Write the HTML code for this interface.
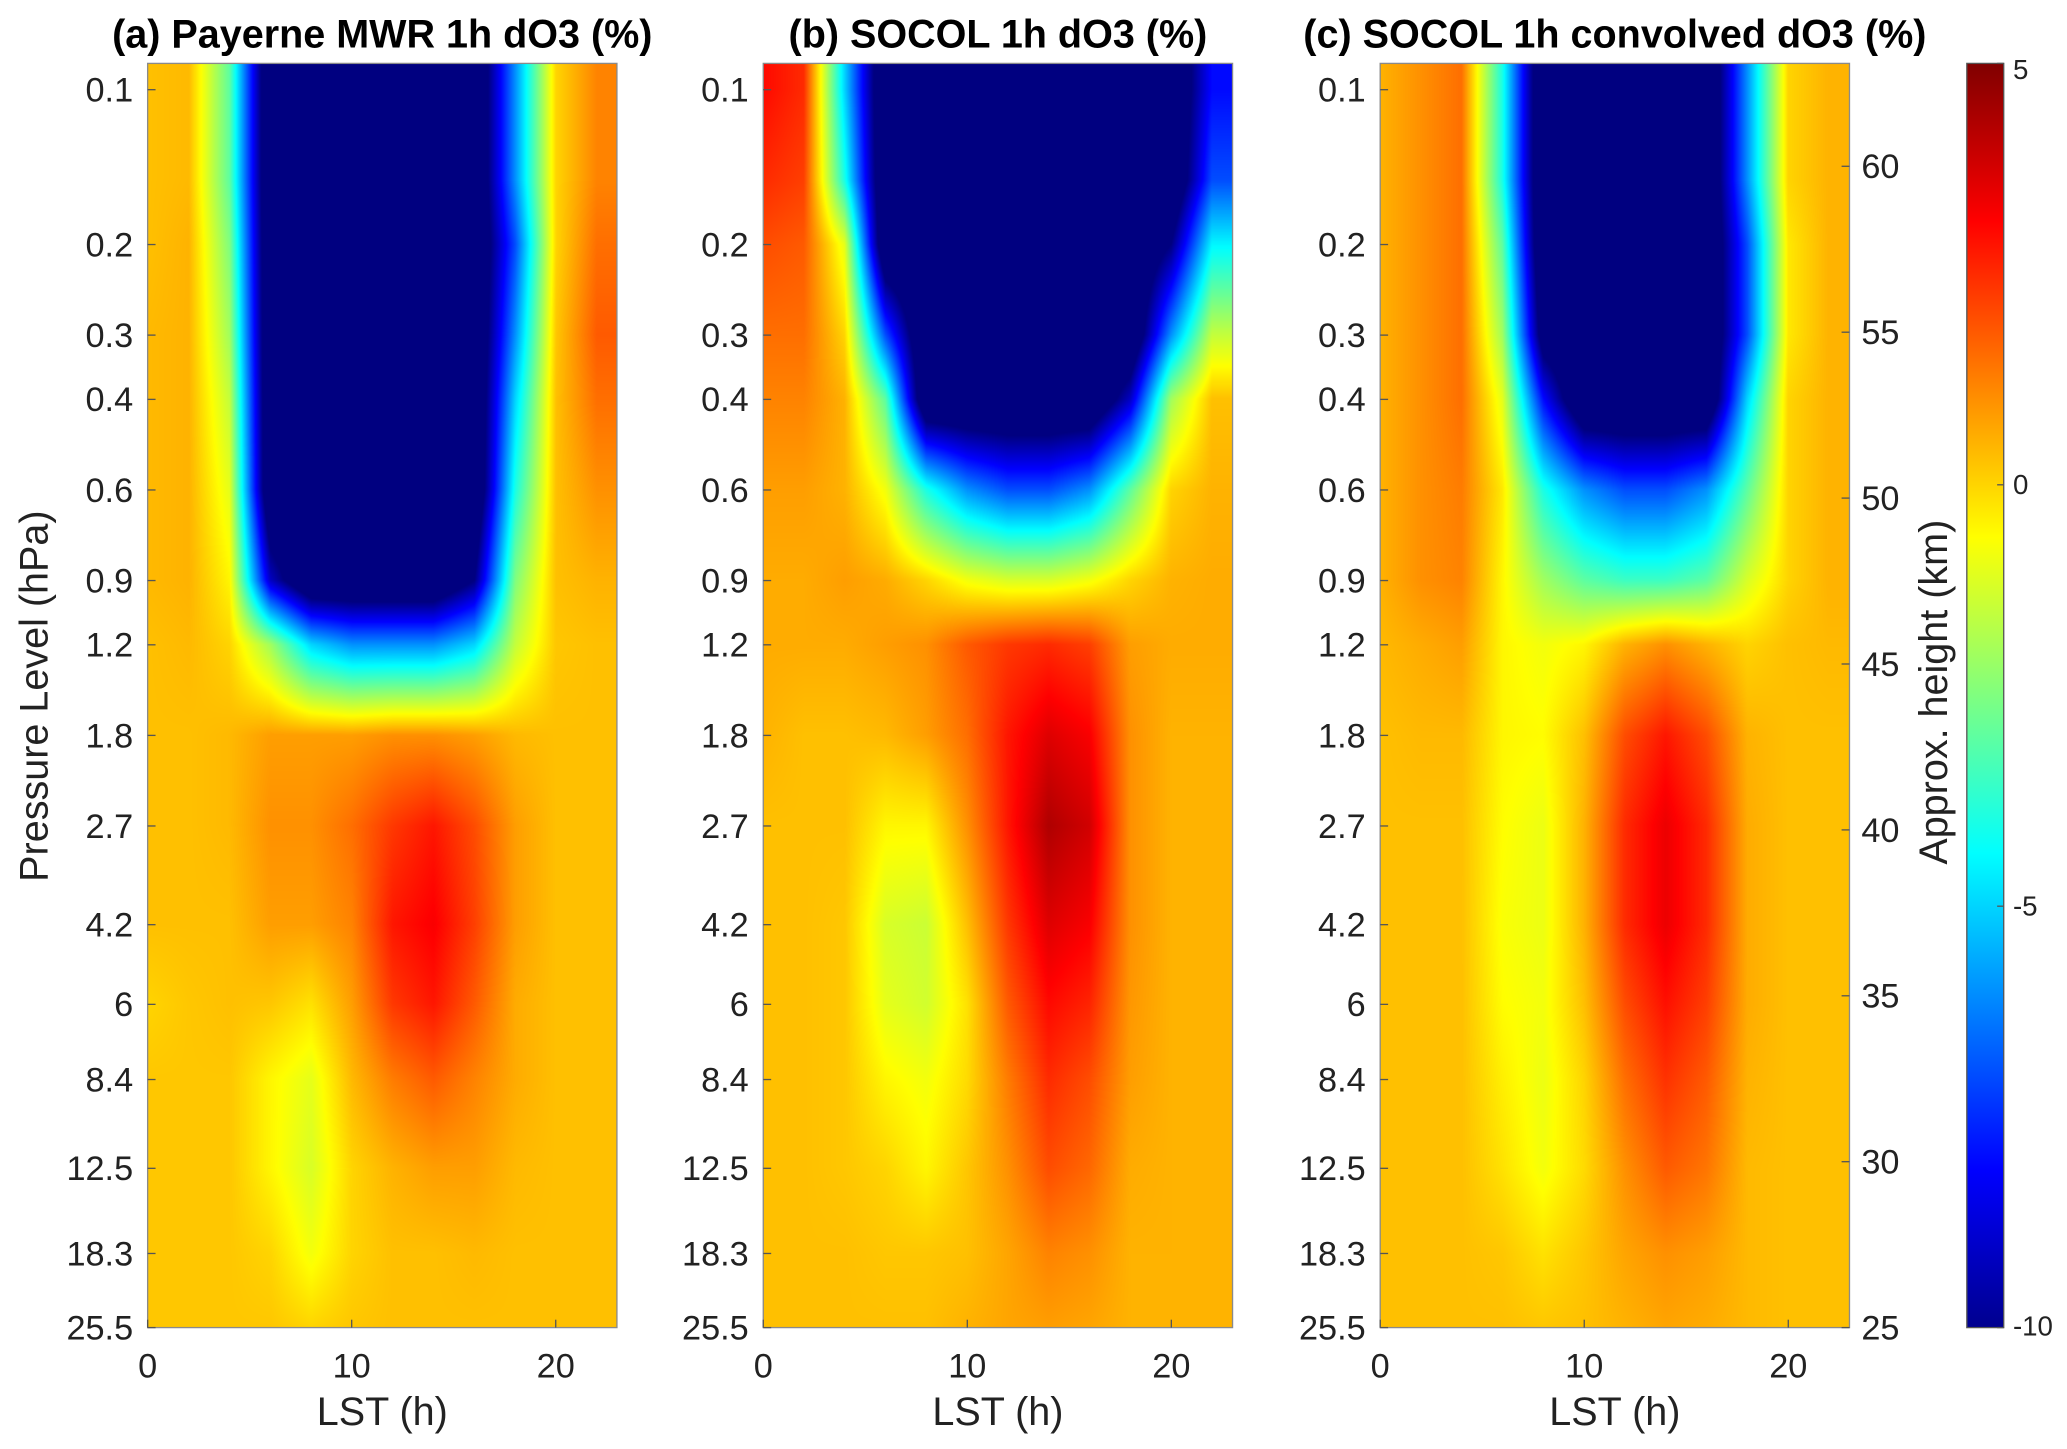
<!DOCTYPE html>
<html><head><meta charset="utf-8"><style>
html,body{margin:0;padding:0;background:#fff}
#wrap{position:relative;width:2067px;height:1449px}
canvas{position:absolute;display:block}
svg{position:absolute;left:0;top:0;display:block;font-family:"Liberation Sans",Arial,sans-serif}
</style></head><body>
<div id="wrap">
<svg id="fig" width="2067" height="1449" viewBox="0 0 1568 1099" xmlns="http://www.w3.org/2000/svg">
<defs>
<linearGradient id="cbgrad" x1="0" y1="1" x2="0" y2="0">
<stop offset="0" stop-color="#00008f"/><stop offset="0.125" stop-color="#0000ff"/><stop offset="0.375" stop-color="#00ffff"/><stop offset="0.625" stop-color="#ffff00"/><stop offset="0.875" stop-color="#ff0000"/><stop offset="1" stop-color="#800000"/>
</linearGradient>
</defs>
<g id="root"></g>
</svg>
</div>
<script>
const hours=[0,2,4,6,8,10,12,14,16,18,20,22];
const levels=[0.1,0.15,0.2,0.3,0.4,0.6,0.9,1.2,1.8,2.7,4.2,6,8.4,12.5,18.3,25.5];
const pTicks=[0.1,0.2,0.3,0.4,0.6,0.9,1.2,1.8,2.7,4.2,6,8.4,12.5,18.3,25.5];
const xTicks=[0,10,20];
const kmTicks=[25,30,35,40,45,50,55,60];
const cbTicks=[5,0,-5,-10];
const titles=["(a) Payerne MWR 1h dO3 (%)","(b) SOCOL 1h dO3 (%)","(c) SOCOL 1h convolved dO3 (%)"];
const dataA=[
[0.3,0.4,-3,-12,-12,-12,-12,-12,-12,-6,0,1.2],
[0.3,0.4,-3,-12,-12,-12,-12,-12,-12,-6,0,1.2],
[0.3,0.5,-2.5,-12,-12,-12,-12,-12,-12,-7,0,1.5],
[0.4,0.5,-2,-12,-12,-12,-12,-12,-12,-6,0.2,1.8],
[0.4,0.5,-1.5,-12,-12,-12,-12,-12,-12,-5,0.3,1.5],
[0.4,0.5,-1,-12,-12,-12,-12,-12,-12,-4,0.3,1],
[0.4,0.5,-0.5,-9,-12,-12,-12,-12,-10,-2.5,0.3,0.5],
[0.3,0.4,0,-2,-5,-6,-6,-6,-5,-1.5,0.2,0.3],
[0.3,0.3,0.4,0.8,0.8,0.8,1,1,0.8,0.4,0.3,0.3],
[0.3,0.3,0.4,1,1,1.5,2.3,2.8,2,0.8,0.3,0.3],
[0.3,0.3,0.3,0.8,0.8,1.2,2.8,3.2,2.2,0.8,0.3,0.3],
[0,0.2,0.3,0.2,-0.2,0.8,2.3,2.8,1.8,0.6,0.3,0.3],
[0.2,0.2,0.2,-0.5,-1,0.4,1.3,1.8,1.2,0.6,0.3,0.3],
[0.2,0.2,0.2,-0.5,-1.2,0,0.5,0.8,0.8,0.4,0.3,0.3],
[0.2,0.2,0.2,0,-0.8,0,0.3,0.3,0.4,0.3,0.3,0.3],
[0.2,0.2,0.2,0.2,0,0.2,0.3,0.3,0.3,0.3,0.3,0.3]];
const dataB=[
[3,2.5,-5,-12,-12,-12,-12,-12,-12,-12,-12,-8],
[2.5,2.2,-4,-12,-12,-12,-12,-12,-12,-12,-12,-7],
[2,1.8,-1,-12,-12,-12,-12,-12,-12,-12,-10,-4.5],
[1.5,1.5,0,-7,-12,-12,-12,-12,-12,-12,-6,-1.5],
[1.2,1.2,0.5,-3,-12,-12,-12,-12,-12,-9,-2,0.3],
[0.8,0.8,0.5,-0.8,-4,-6,-7,-7,-6,-3,0,0.5],
[0.6,0.6,0.8,0.6,0,-0.8,-1.2,-1.2,-0.8,0,0.5,0.6],
[0.6,0.6,0.6,0.8,1,1.8,2.3,2.5,2.2,0.8,0.6,0.6],
[0.5,0.3,0.3,0.4,0.8,1.5,2.8,3.6,3.2,1,0.5,0.5],
[0.3,0.3,0.3,-0.5,-0.5,1,2.8,4.3,3.8,1,0.5,0.5],
[0.3,0.3,0.2,-1.2,-1.4,0.3,2.3,3.6,3.2,1,0.5,0.5],
[0.3,0.3,0.2,-1,-1.3,-0.2,1.8,3,2.6,0.9,0.5,0.5],
[0.3,0.3,0.2,-0.5,-0.8,-0.1,1.3,2.5,2,0.8,0.5,0.5],
[0.3,0.3,0.2,0,-0.5,0.2,1,2,1.6,0.6,0.5,0.5],
[0.3,0.3,0.3,0.2,0.2,0.3,0.7,1.2,1,0.5,0.5,0.5],
[0.3,0.3,0.3,0.3,0.3,0.5,0.7,0.8,0.7,0.5,0.5,0.5]];
const dataC=[
[0.5,1,1.5,-4,-12,-12,-12,-12,-12,-6,0,0.5],
[0.5,1,1.5,-4,-12,-12,-12,-12,-12,-6,0,0.5],
[0.5,1,1.5,-3,-12,-12,-12,-12,-12,-7,-0.3,0.5],
[0.5,1,1.5,-2,-11,-12,-12,-12,-12,-7,-0.3,0.5],
[0.5,1,1.5,-1,-8,-12,-12,-12,-12,-5,0,0.5],
[0.5,1,1.3,-0.3,-4,-6,-7,-7,-6,-3,0,0.5],
[0.5,1,1.2,-0.5,-2,-3,-3.5,-3.5,-3,-1.2,0,0.5],
[0.4,0.6,0.8,-0.5,-0.8,-0.5,0.5,1,0.5,0,0.3,0.4],
[0.3,0.4,0.4,-0.5,-0.6,0.3,2,2.8,2,0.5,0.3,0.3],
[0.3,0.3,0.3,-0.6,-0.9,0.5,2.5,3.4,2.5,0.6,0.3,0.3],
[0.3,0.3,0.3,-0.7,-0.9,0.5,2.5,3.4,2.5,0.6,0.3,0.3],
[0.3,0.3,0.3,-0.6,-0.8,0.3,2,2.9,2.2,0.6,0.3,0.3],
[0.3,0.3,0.3,-0.4,-0.9,0,1.5,2.4,1.8,0.5,0.3,0.3],
[0.3,0.3,0.3,-0.2,-0.8,-0.1,1,1.8,1.4,0.4,0.3,0.3],
[0.3,0.3,0.3,0.2,-0.2,0.2,0.7,1,0.8,0.4,0.3,0.3],
[0.3,0.3,0.3,0.3,0.2,0.3,0.5,0.7,0.6,0.4,0.3,0.3]];
const panels=[dataA,dataB,dataC];

const NS="http://www.w3.org/2000/svg";
const S=2067/1568;
const root=document.getElementById('root');
const wrap=document.getElementById('wrap');
const panelX=[112,579,1047], PW=356, PT=48, PB=1007;
const xMax=23, pTop=0.0889, pBot=25.5;
const L0=Math.log10(pTop), L1=Math.log10(pBot);
function xs(h,i){return panelX[i]+h/xMax*PW;}
function ys(p){return PT+(Math.log10(p)-L0)/(L1-L0)*(PB-PT);}
function kmY(k){return 1007-(k-25)*25.17;}
function cbY(v){return 1007-(v+10)/15*(1007-48);}
function jetArr(v){let t=(v+10)/15;t=Math.max(0,Math.min(1,t));
 const r=Math.min(1,Math.max(0,1.5-Math.abs(4*t-3))),g=Math.min(1,Math.max(0,1.5-Math.abs(4*t-2))),b=Math.min(1,Math.max(0,1.5-Math.abs(4*t-1)));
 return [r*255,g*255,b*255];}
function mk(tag,attrs,parent){const e=document.createElementNS(NS,tag);for(const k in attrs)e.setAttribute(k,attrs[k]);(parent||root).appendChild(e);return e;}
function txt(s,attrs,parent){const e=mk('text',attrs,parent);e.textContent=s;return e;}
function interp1(arr,x){
 if(x<=arr[0])return [0,0];
 if(x>=arr[arr.length-1])return [arr.length-2,1];
 let k=0;while(x>arr[k+1])k++;
 return [k,(x-arr[k])/(arr[k+1]-arr[k])];
}
const logLev=levels.map(p=>Math.log10(p));

panels.forEach((data,i)=>{
 const cx=Math.round(panelX[i]*S), cy=Math.round(PT*S);
 const cw=Math.round((panelX[i]+PW)*S)-cx, ch=Math.round(PB*S)-cy;
 const cv=document.createElement('canvas');
 cv.width=cw;cv.height=ch;
 cv.style.left=cx+'px';cv.style.top=cy+'px';
 
 
 wrap.insertBefore(cv,wrap.firstChild);
 const ctx=cv.getContext('2d');
 const img=ctx.createImageData(cw,ch);
 const colI=[];
 for(let px=0;px<cw;px++){const h=((px+0.5)/S)/PW*xMax;colI.push(interp1(hours,h));}
 for(let py=0;py<ch;py++){
  const yv=(py+0.5)/S+PT;
  const lp=L0+(yv-PT)/(PB-PT)*(L1-L0);
  const [r,fr]=interp1(logLev,lp);
  for(let px=0;px<cw;px++){
   const [c,fc]=colI[px];
   const v=(data[r][c]*(1-fc)+data[r][c+1]*fc)*(1-fr)+(data[r+1][c]*(1-fc)+data[r+1][c+1]*fc)*fr;
   const col=jetArr(v);const o=(py*cw+px)*4;
   img.data[o]=col[0];img.data[o+1]=col[1];img.data[o+2]=col[2];img.data[o+3]=255;
  }
 }
 ctx.putImageData(img,0,0);

 const box=mk('rect',{x:panelX[i],y:PT,width:PW,height:PB-PT,fill:'none',stroke:'#8a8a8a','stroke-width':1});
 
 
 const t=txt(titles[i],{x:panelX[i]+PW/2,y:36,'text-anchor':'middle','font-size':30,'font-weight':'bold',fill:'#000'});
 
 
 pTicks.forEach(p=>{
  const y=ys(p);
  mk('line',{x1:panelX[i],x2:panelX[i]+6,y1:y,y2:y,stroke:'#555','stroke-width':1});
  const l=txt(String(p),{x:panelX[i]-11,y:y+9,'text-anchor':'end','font-size':26,fill:'#222'});
  
  
 });
 xTicks.forEach(h=>{
  const x=xs(h,i);
  mk('line',{x1:x,x2:x,y1:PB,y2:PB-6,stroke:'#555','stroke-width':1});
  const l=txt(String(h),{x:x,y:1045,'text-anchor':'middle','font-size':26,fill:'#222'});
  
  
 });
 const xl=txt('LST (h)',{x:panelX[i]+PW/2,y:1081,'text-anchor':'middle','font-size':30,fill:'#222'});
 
 
});
const yl=txt('Pressure Level (hPa)',{x:0,y:0,transform:'translate(36,528) rotate(-90)','text-anchor':'middle','font-size':30,fill:'#222'});


kmTicks.forEach(k=>{
 const y=kmY(k);
 mk('line',{x1:1403,x2:1397,y1:y,y2:y,stroke:'#555','stroke-width':1});
 const l=txt(String(k),{x:1412,y:y+9,'font-size':26,fill:'#222'});
 
 
});
const hl=txt('Approx. height (km)',{x:0,y:0,transform:'translate(1477,525) rotate(-90)','text-anchor':'middle','font-size':30,fill:'#222'});


const cb=mk('rect',{x:1492,y:48,width:28,height:959,fill:'url(#cbgrad)',stroke:'#555','stroke-width':1});


cbTicks.forEach(v=>{
 const y=cbY(v);
 mk('line',{x1:1520,x2:1515,y1:y,y2:y,stroke:'#555','stroke-width':1});
 const l=txt(String(v),{x:1527,y:Math.min(Math.max(y+7,60),1013),'font-size':21,fill:'#222'});
 
 
});
</script>
</body></html>
